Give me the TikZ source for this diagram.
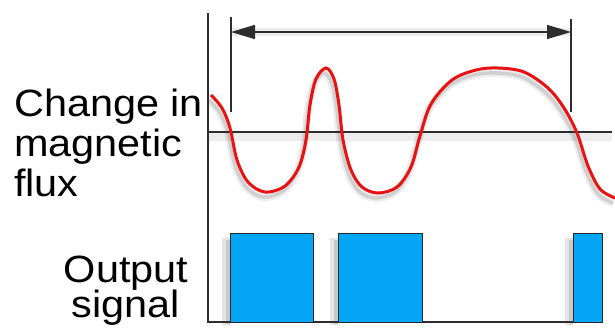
\documentclass[tikz,border=0pt]{standalone}
\usepackage{fontspec}
\setmainfont{Liberation Sans}[FakeStretch=1.09]
\usetikzlibrary{arrows.meta}
\definecolor{fluxred}{RGB}{232,18,18}
\definecolor{pulseblue}{RGB}{5,166,245}
\definecolor{axisgrey}{RGB}{45,45,45}
\setlength{\lineskiplimit}{-30pt}

\begin{document}
\begin{tikzpicture}[x=1pt, y=-1pt,
  lbl/.style={inner sep=0pt, font=\fontsize{38}{40}\selectfont},
  ax/.style={draw=axisgrey, line width=1.6pt},
  sh/.style={draw=black, opacity=0.07, line width=8pt},
  shc/.style={draw=black, opacity=0.12, line width=3.5pt},
  pulse/.style={draw=black!85, line width=1pt, fill=pulseblue},
  a/.style={{Triangle[length=24pt,width=14pt]}-{Triangle[length=24pt,width=14pt]},
            line width=1.6pt, draw=axisgrey}]
\useasboundingbox (0,0) rectangle (615,332);
\def\fluxcurve{plot[smooth, tension=0.55] coordinates {(211,95) (222,108) (230,128)
  (237,160) (248,182) (265,192) (285,186) (299,167) (306,140) (310,105) (316,79)
  (326,68) (334,79) (339,105) (343,140) (351,170) (362,187) (378,193) (397,187)
  (411,167) (420,136) (431,104) (452,80) (476,70) (498,68) (524,72) (548,88)
  (564,108) (577,133) (588,166) (600,189) (615,198)}}

\node[lbl, anchor=north west, align=left] (flux) at (14,89) {Change in\\magnetic\\flux};
\node[lbl, anchor=north, align=center, font=\fontsize{38}{35}\selectfont]
  (out) at (126,256) {Output\\signal};

\coordinate (t1) at (231,32);
\coordinate (t2) at (571,32);

% shadows
\draw[sh, xshift=-2pt, yshift=-5pt] \fluxcurve;
\draw[shc, xshift=-2pt, yshift=-5pt] \fluxcurve;
\draw[sh, yshift=-5pt] (208,132) -- (612,132);
\draw[sh, yshift=-5pt] (t1) -- (t2);
\fill[black, opacity=0.1] (222,238) rectangle (230,325) (330,238) rectangle (338,325)
  (565,238) rectangle (573,325);
\fill[black, opacity=0.12] (226,240) rectangle (230,324) (334,240) rectangle (338,324)
  (569,240) rectangle (573,324);

% axes and markers
\draw[ax] (208,13) -- (208,322) -- (602,322);
\draw[ax] (208,132) -- (612,132);
\draw[ax, line width=1.2pt] (231,17) -- (231,112);
\draw[ax, line width=1.2pt] (571,19) -- (571,112);
\draw[a] (t1) -- (t2);

\draw[fluxred, line width=3pt] \fluxcurve;

\draw[pulse] (230,322) rectangle (313,233);
\draw[pulse] (338,322) rectangle (422,233);
\draw[pulse] (573,322) rectangle (602,233);
\end{tikzpicture}
\end{document}
